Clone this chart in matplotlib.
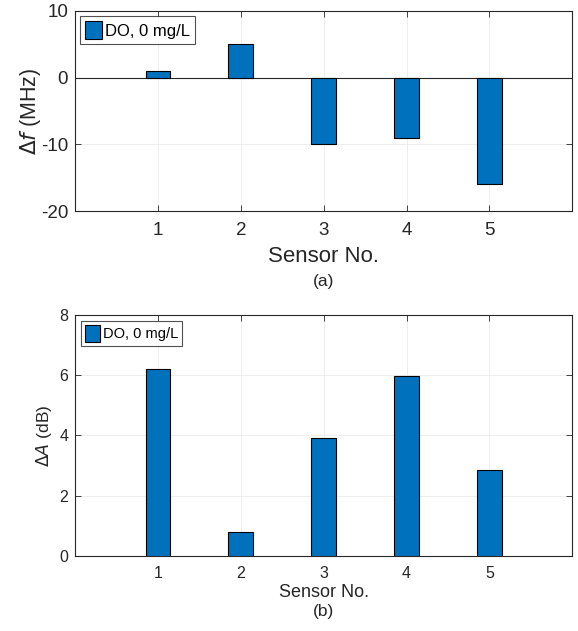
import numpy as np
import matplotlib
matplotlib.use('Agg')
import matplotlib.pyplot as plt

plt.rcParams['font.family'] = ['Liberation Sans', 'DejaVu Sans']
plt.rcParams['axes.unicode_minus'] = False

sensors = [1, 2, 3, 4, 5]
delta_f = [1, 5, -10, -9, -16]
delta_a = [6.2, 0.78, 3.92, 5.97, 2.85]
label = 'DO, 0 mg/L'
blue = '#0072BD'

fig = plt.figure(figsize=(5.78, 6.31), dpi=100)
ax1 = fig.add_axes([0.130, 0.6656, 0.860, 0.317])
ax2 = fig.add_axes([0.130, 0.119, 0.860, 0.382])


def style(ax, fs, pad):
    ax.set_xlim(0, 6)
    ax.set_xticks(sensors)
    ax.grid(True, color='#ebebeb', linewidth=0.6)
    ax.set_axisbelow(True)
    ax.tick_params(direction='in', top=True, right=True, labelsize=fs,
                   colors='#262626', length=4, width=0.6)
    ax.tick_params(axis='x', pad=pad)
    ax.tick_params(axis='y', pad=5)
    for s in ax.spines.values():
        s.set_color('#262626')
        s.set_linewidth(0.8)


# (a) frequency shift
ax1.bar(sensors, delta_f, width=0.3, color=blue, edgecolor='black',
        linewidth=0.8, label=label, zorder=3)
ax1.axhline(0, color='#262626', linewidth=0.8, zorder=2)
ax1.set_ylim(-20, 10)
ax1.set_yticks([-20, -10, 0, 10])
style(ax1, 13.5, 8)
ax1.set_xlabel('Sensor No.', fontsize=16, color='#262626', va='center')
ax1.xaxis.set_label_coords(0.5, -0.225)
ax1.set_ylabel(r'$\Delta$$\it{f}$ (MHz)', fontsize=15.5, color='#262626', va='center')
ax1.yaxis.set_label_coords(-0.09, 0.5)
ax1.text(0.5, -0.35, '(a)', transform=ax1.transAxes, ha='center', va='center',
         fontsize=12.5, color='#262626')
leg = ax1.legend(loc='upper left', fontsize=12, frameon=True, fancybox=False,
                 edgecolor='#262626', handlelength=1.0, handleheight=1.3,
                 handletextpad=0.2, borderpad=0.3, borderaxespad=0.3)
leg.get_frame().set_linewidth(0.8)

# (b) amplitude change
ax2.bar(sensors, delta_a, width=0.3, color=blue, edgecolor='black',
        linewidth=0.8, label=label, zorder=3)
ax2.set_ylim(0, 8)
ax2.set_yticks([0, 2, 4, 6, 8])
style(ax2, 11.5, 7)
ax2.set_xlabel('Sensor No.', fontsize=13, color='#262626', va='center')
ax2.xaxis.set_label_coords(0.5, -0.1535)
ax2.set_ylabel(r'$\Delta$$\it{A}$ (dB)', fontsize=12.5, color='#262626', va='center')
ax2.yaxis.set_label_coords(-0.062, 0.5)
ax2.text(0.5, -0.232, '(b)', transform=ax2.transAxes, ha='center', va='center',
         fontsize=12.5, color='#262626')
leg = ax2.legend(loc='upper left', fontsize=10.5, frameon=True, fancybox=False,
                 edgecolor='#262626', handlelength=1.0, handleheight=1.4,
                 handletextpad=0.2, borderpad=0.3, borderaxespad=0.4)
leg.get_frame().set_linewidth(0.8)

fig.savefig('out.png', dpi=100)
